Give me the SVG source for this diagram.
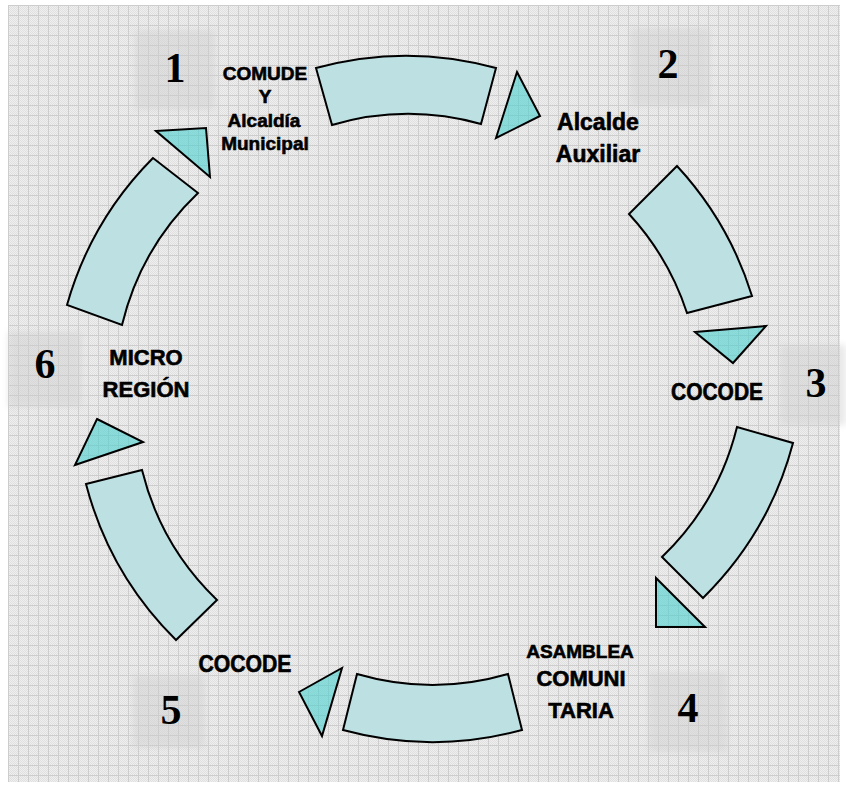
<svg xmlns="http://www.w3.org/2000/svg" width="846" height="787" viewBox="0 0 846 787">
  <defs>
    <!-- fine dither of the paper -->
    <pattern id="dither" width="2" height="2" patternUnits="userSpaceOnUse">
      <rect width="2" height="2" fill="#efefef"/>
      <rect width="1" height="1" fill="#e0e0e0"/>
      <rect x="1" y="1" width="1" height="1" fill="#e0e0e0"/>
    </pattern>
    <!-- square grid lines -->
    <pattern id="grid" x="8" y="5" width="10" height="10" patternUnits="userSpaceOnUse">
      <path d="M0 0.5H10M0.5 0V10" stroke="#cdcdcd" stroke-width="1" fill="none"/>
    </pattern>
    <filter id="soft" x="-20%" y="-20%" width="140%" height="140%">
      <feGaussianBlur stdDeviation="3"/>
    </filter>
    <style>
      .seg { fill: #bde0e3; stroke: #000; stroke-width: 2; stroke-linejoin: miter; }
      .tri { fill: rgb(70,208,208); fill-opacity: 0.58; stroke: #000; stroke-width: 2; stroke-linejoin: miter; }
      .num { font-family: "Liberation Serif", "Times New Roman", serif; font-weight: bold; font-size: 42px; fill: #000; text-anchor: middle; }
      .lbl { font-family: "Liberation Sans", Arial, sans-serif; font-weight: bold; font-size: 22px; fill: #000; stroke: #000; stroke-width: 0.6; text-anchor: middle; }
      .sm { font-size: 19px; }
      .pad { fill: #cfcfcf; opacity: 0.45; filter: url(#soft); }
    </style>
  </defs>

  <!-- paper -->
  <rect width="846" height="787" fill="#ffffff"/>
  <rect x="8" y="5" width="832" height="777" fill="url(#dither)"/>
  <rect x="8" y="5" width="832" height="777" fill="url(#grid)"/>

  <!-- shaded pads behind the step numbers -->
  <g id="pads">
    <rect class="pad" x="135" y="30" width="80" height="80"/>
    <rect class="pad" x="630" y="28" width="80" height="78"/>
    <rect class="pad" x="780" y="345" width="66" height="80"/>
    <rect class="pad" x="648" y="672" width="80" height="80"/>
    <rect class="pad" x="133" y="675" width="72" height="73"/>
    <rect class="pad" x="8" y="332" width="74" height="75"/>
  </g>

  <!-- cycle: arc blocks and arrowheads -->
  <g id="connectors">
    <path id="arc-1-2" class="seg" d="M316 68 A340 340 0 0 1 496 68 L481 124 A270 270 0 0 0 332 125 Z"/>
    <path id="arc-2-3" class="seg" d="M677 166 A340 340 0 0 1 752 296 L687 313 A270 270 0 0 0 629 214 Z"/>
    <path id="arc-3-4" class="seg" d="M793 443 A340 340 0 0 1 703 598 L662 557 A270 270 0 0 0 737 427 Z"/>
    <path id="arc-4-5" class="seg" d="M522 730 A340 340 0 0 1 343 730 L357 674 A270 270 0 0 0 508 674 Z"/>
    <path id="arc-5-6" class="seg" d="M176 640 A340 340 0 0 1 86 484 L142 470 A270 270 0 0 0 217 600 Z"/>
    <path id="arc-6-1" class="seg" d="M67 305 A340 340 0 0 1 153 158 L198 193 A270 270 0 0 0 122 325 Z"/>

    <polygon id="head-1" class="tri" points="156,131 206,128 210,177"/>
    <polygon id="head-2" class="tri" points="517,72 540,116 496,138"/>
    <polygon id="head-3" class="tri" points="695,332 766,326 733,363"/>
    <polygon id="head-4" class="tri" points="656,578 656,627 705,627"/>
    <polygon id="head-5" class="tri" points="299,692 342,668 322,736"/>
    <polygon id="head-6" class="tri" points="97,419 143,442 75,465"/>
  </g>

  <g id="node-1">
    <text class="num" x="175" y="82">1</text>
    <text class="lbl sm" x="265" y="80">COMUDE</text>
    <text class="lbl sm" x="265" y="103">Y</text>
    <text class="lbl sm" x="264" y="127">Alcaldía</text>
    <text class="lbl sm" x="265" y="150">Municipal</text>
  </g>

  <g id="node-2">
    <text class="num" x="668" y="78">2</text>
    <text class="lbl" x="598" y="130" style="font-size:23px">Alcalde</text>
    <text class="lbl" x="598" y="162" style="font-size:23px">Auxiliar</text>
  </g>

  <g id="node-3">
    <text class="num" x="816" y="397">3</text>
    <text class="lbl" x="717" y="400" style="font-size:23px" textLength="92" lengthAdjust="spacingAndGlyphs">COCODE</text>
  </g>

  <g id="node-4">
    <text class="num" x="688" y="722">4</text>
    <text class="lbl sm" x="580" y="658">ASAMBLEA</text>
    <text class="lbl" x="581" y="686">COMUNI</text>
    <text class="lbl" x="581" y="718">TARIA</text>
  </g>

  <g id="node-5">
    <text class="num" x="171" y="724">5</text>
    <text class="lbl" x="245" y="672" style="font-size:23px" textLength="93" lengthAdjust="spacingAndGlyphs">COCODE</text>
  </g>

  <g id="node-6">
    <text class="num" x="45" y="378">6</text>
    <text class="lbl" x="146" y="365">MICRO</text>
    <text class="lbl" x="146" y="397">REGIÓN</text>
  </g>
</svg>
